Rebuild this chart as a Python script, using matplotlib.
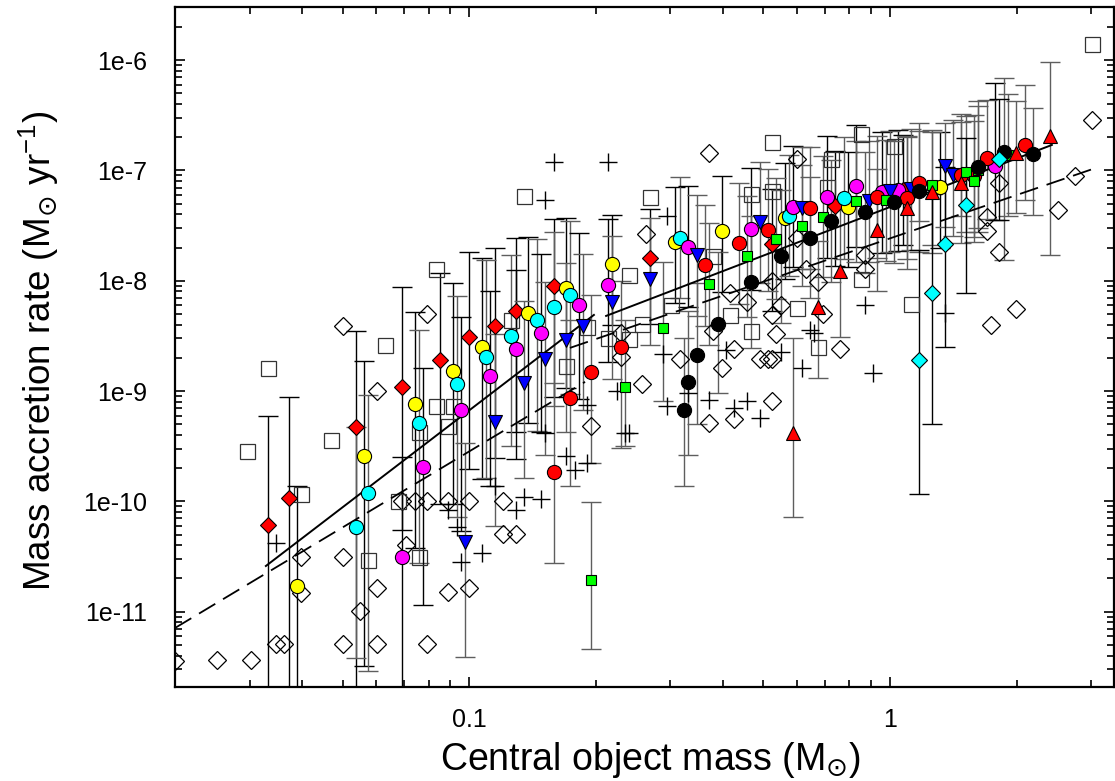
import numpy as np
import matplotlib
matplotlib.use("Agg")
import matplotlib.pyplot as plt
from matplotlib.ticker import FixedLocator, LogLocator, FuncFormatter, NullFormatter

plt.rcParams['font.family'] = ['Liberation Sans', 'DejaVu Sans']
plt.rcParams['mathtext.fontset'] = 'dejavusans'

# ---------------- data (log10 of mass [Msun], log10 of accretion rate [Msun/yr]) -------------
# filled red diamonds
rd_logm = [-1.48, -1.43, -1.27, -1.16, -1.07, -1.00, -0.94, -0.89, -0.80, -0.57, -0.28, -0.13, 0.03]
rd_logr = [-10.21, -9.97, -9.33, -8.96, -8.72, -8.51, -8.41, -8.27, -8.05, -7.79, -7.67, -7.32, -7.18]
rd_up = [0.98, 0.92, 0.87, 0.90, 0.79, 0.77, 0.71, 0.66, 0.61, 0.44, 0.50, 0.50, 0.50]
rd_dn = [2.0, 2.0, 2.5, 1.3, 1.3, 1.2, 1.2, 1.1, 1.0, 0.60, 0.60, 0.55, 0.50]

# yellow circles
ye_logm = [-1.41, -1.25, -1.13, -1.04, -0.97, -0.86, -0.77, -0.66, -0.51, -0.40, -0.25, -0.10, 0.12]
ye_logr = [-10.77, -9.59, -9.12, -8.82, -8.60, -8.29, -8.07, -7.85, -7.65, -7.55, -7.43, -7.33, -7.15]
ye_up = [0.91, 0.86, 0.84, 0.80, 0.81, 0.69, 0.64, 0.45, 0.50, 0.50, 0.50, 0.50, 0.50]
ye_dn = [1.5, 1.9, 1.3, 1.2, 1.2, 1.0, 0.9, 0.55, 0.55, 0.55, 0.55, 0.55, 0.55]

# cyan circles
cy_logm = [-1.27, -1.24, -1.12, -1.03, -0.96, -0.90, -0.84, -0.80, -0.76, -0.50, -0.24, -0.11]
cy_logr = [-10.23, -9.92, -9.29, -8.94, -8.69, -8.50, -8.36, -8.24, -8.13, -7.61, -7.41, -7.25]
cy_up = [0.90, 0.88, 0.84, 0.80, 0.88, 0.73, 0.74, 0.68, 0.67, 0.55, 0.55, 0.55]
cy_dn = [1.19, 1.62, 1.27, 1.2, 1.1, 1.0, 1.0, 0.9, 0.9, 0.55, 0.55, 0.55]

# magenta circles
mg_logm = [-1.16, -1.11, -1.02, -0.95, -0.89, -0.83, -0.74, -0.67, -0.48, -0.33, -0.23, -0.15,
           -0.08, -0.02, 0.02, 0.25]
mg_logr = [-10.50, -9.69, -9.17, -8.86, -8.62, -8.47, -8.22, -8.04, -7.69, -7.53, -7.33, -7.24,
           -7.14, -7.20, -7.18, -6.96]
mg_up = [0.90, 0.90, 0.84, 0.77, 0.72, 0.71, 0.65, 0.60, 0.55, 0.55, 0.55, 0.55, 0.55, 0.55, 0.55, 0.75]
mg_dn = [1.5, 1.25, 1.1, 1.0, 1.0, 0.9, 0.85, 0.7, 0.55, 0.55, 0.55, 0.55, 0.55, 0.55, 0.55, 0.49]

# blue down triangles
bl_logm = [-1.01, -0.94, -0.87, -0.82, -0.77, -0.73, -0.66, -0.57, -0.46, -0.31, -0.21, -0.05,
           0.00, 0.05, 0.13, 0.15]
bl_logr = [-10.37, -9.28, -8.93, -8.71, -8.54, -8.41, -8.19, -7.98, -7.77, -7.47, -7.34, -7.28,
           -7.19, -7.17, -6.96, -7.04]
bl_up = [0.9, 0.8, 0.75, 0.7, 0.7, 0.65, 0.6, 0.55, 0.55, 0.55, 0.55, 0.55, 0.55, 0.55, 0.39, 0.5]
bl_dn = [1.04, 0.94, 0.86, 0.87, 0.83, 0.76, 0.7, 0.6, 0.55, 0.55, 0.55, 0.55, 0.55, 0.55, 0.55, 0.55]

# red circles
rc_logm = [-0.80, -0.76, -0.71, -0.64, -0.44, -0.36, -0.29, -0.19, -0.03, 0.04, 0.07, 0.17, 0.20,
           0.23, 0.32]
rc_logr = [-9.73, -9.06, -8.83, -8.60, -7.86, -7.66, -7.54, -7.34, -7.24, -7.25, -7.11, -7.04,
           -7.05, -6.89, -6.77]
rc_up = [0.8, 0.7, 0.7, 0.6, 0.55, 0.55, 0.55, 0.55, 0.55, 0.55, 0.54, 0.55, 0.55, 0.53, 0.54]
rc_dn = [0.83, 0.80, 0.82, 0.92, 0.55, 0.55, 0.55, 0.55, 0.55, 0.55, 0.35, 0.37, 0.55, 0.55, 0.50]

# green squares
gr_logm = [-0.71, -0.63, -0.54, -0.43, -0.34, -0.27, -0.21, -0.16, -0.08, -0.01, 0.10, 0.18, 0.20,
           0.21, 0.28]
gr_logr = [-10.71, -8.96, -8.43, -8.03, -7.78, -7.62, -7.50, -7.42, -7.28, -7.27, -7.13, -7.01,
           -7.10, -7.00, -6.86]
gr_up = [0.70, 0.6, 0.6, 0.55, 0.55, 0.55, 0.55, 0.55, 0.55, 0.55, 0.5, 0.5, 0.55, 0.63, 0.55]
gr_dn = [0.63, 0.54, 0.66, 0.55, 0.55, 0.55, 0.55, 0.55, 0.55, 0.55, 0.55, 0.55, 0.55, 0.56, 0.55]

# black circles
bk_logm = [-0.49, -0.48, -0.46, -0.41, -0.33, -0.26, -0.19, -0.14, -0.06, 0.01, 0.07, 0.21, 0.27, 0.34]
bk_logr = [-9.17, -8.92, -8.67, -8.39, -8.01, -7.78, -7.61, -7.46, -7.38, -7.29, -7.19, -6.97,
           -6.83, -6.85]
bk_up = [0.65, 0.65, 0.65, 0.65, 0.6, 0.6, 0.55, 0.55, 0.55, 0.56, 0.55, 0.55, 0.67, 0.42]
bk_dn = [0.69, 0.66, 0.63, 0.63, 0.6, 0.6, 0.55, 0.55, 0.55, 0.55, 0.55, 0.55, 0.98, 0.55]

# red up triangles
rt_logm = [-0.23, -0.17, -0.12, -0.03, 0.04, 0.10, 0.17, 0.30, 0.38]
rt_logr = [-9.38, -8.24, -7.91, -7.54, -7.34, -7.20, -7.11, -6.84, -6.69]
rt_up = [0.86, 0.6, 0.55, 0.55, 0.65, 0.55, 0.55, 0.47, 0.67]
rt_dn = [0.76, 0.64, 0.6, 0.55, 0.55, 0.55, 0.55, 0.55, 1.08]

# cyan diamonds
cd_logm = [0.07, 0.10, 0.13, 0.18, 0.26]
cd_logr = [-8.72, -8.11, -7.67, -7.31, -6.90]
cd_up = [1.0, 0.9, 0.7, 0.6, 0.55]
cd_dn = [1.21, 1.19, 0.93, 0.8, 0.55]

# open diamonds
od_logm = [-1.70, -1.60, -1.52, -1.46, -1.44, -1.40, -1.40, -1.30, -1.30, -1.30, -1.26, -1.22,
           -1.22, -1.22, -1.16, -1.15, -1.13, -1.10, -1.10, -1.10, -1.05, -1.05, -1.00, -1.00,
           -0.92, -0.92, -0.89, -0.71, -0.64, -0.64, -0.59, -0.58, -0.50, -0.43, -0.43, -0.42,
           -0.40, -0.38, -0.37, -0.37, -0.34, -0.31, -0.29, -0.28, -0.28, -0.28, -0.27, -0.28,
           -0.26, -0.22, -0.22, -0.20, -0.17, -0.16, -0.12, -0.06, -0.06, 0.23, 0.23, 0.24,
           0.26, 0.26, 0.30, 0.40, 0.44, 0.48]
od_logr = [-11.45, -11.44, -11.44, -11.29, -11.29, -10.50, -10.83, -8.41, -10.50, -11.29, -10.99,
           -9.00, -10.79, -11.29, -10.00, -10.40, -10.00, -8.30, -10.00, -11.29, -10.00, -10.82,
           -10.00, -10.79, -10.00, -10.30, -10.30, -9.32, -8.69, -8.47, -8.94, -7.58, -8.71,
           -6.84, -9.29, -8.46, -8.79, -8.11, -8.62, -9.25, -8.19, -8.71, -8.71, -8.71, -9.09,
           -8.31, -8.48, -8.00, -8.22, -6.90, -7.61, -7.89, -8.01, -8.30, -8.62, -7.77, -7.89,
           -7.42, -7.55, -8.40, -7.11, -7.74, -8.26, -7.36, -7.05, -6.54]

# open squares
os_logm = [-1.53, -1.48, -1.40, -1.33, -1.20, -1.24, -1.17, -1.12, -1.12, -1.08, -1.08, -1.04,
           -1.05, -0.90, -0.87, -0.77, -0.72, -0.67, -0.62, -0.62, -0.59, -0.57, -0.52, -0.42,
           -0.38, -0.33, -0.33, -0.28, -0.28, -0.22, -0.17, -0.15, -0.14, -0.07, -0.07, 0.01,
           0.05, 0.48]
os_logr = [-9.54, -8.79, -9.93, -9.44, -8.58, -10.53, -10.00, -9.37, -10.50, -9.14, -7.89, -9.14,
           -9.32, -8.36, -7.23, -8.77, -8.42, -8.52, -8.53, -7.95, -8.39, -7.24, -8.22, -7.78,
           -8.31, -8.46, -7.21, -7.19, -6.74, -8.25, -8.60, -7.15, -6.90, -6.67, -7.98, -6.78,
           -8.21, -5.85]

# plus signs
pl_logm = [-1.46, -1.05, -1.03, -1.02, -0.97, -0.94, -0.89, -0.87, -0.83, -0.82, -0.82, -0.80,
           -0.77, -0.75, -0.72, -0.72, -0.67, -0.65, -0.63, -0.62, -0.54, -0.53, -0.53, -0.48,
           -0.43, -0.39, -0.37, -0.34, -0.31, -0.26, -0.21, -0.19, -0.18, -0.06, -0.04, 0.13]
pl_logr = [-10.38, -10.08, -10.23, -10.55, -10.47, -9.86, -10.08, -9.96, -9.98, -9.38, -7.27, -6.92,
           -9.59, -9.72, -9.13, -9.65, -6.92, -9.00, -9.38, -9.38, -8.66, -9.14, -7.41, -9.02,
           -9.08, -8.63, -9.15, -9.09, -9.24, -8.65, -8.79, -8.45, -8.47, -8.22, -8.84, -8.29]

# fitted relations (two broken power laws)
fit_solid_lo_logm = [-1.484, -0.704]
fit_solid_lo_logr = [-10.586, -8.310]
fit_solid_hi_logm = [-0.675, 0.385]
fit_solid_hi_logr = [-8.319, -6.769]
fit_dash_lo_logm = [-1.700, -0.725]
fit_dash_lo_logr = [-11.148, -8.917]
fit_dash_hi_logm = [-0.761, 0.483]
fit_dash_hi_logr = [-8.609, -6.986]

# ---------------- figure ----------------
W, H = 1115, 781
fig = plt.figure(figsize=(W / 100, H / 100), dpi=100)
ax = fig.add_axes([175 / W, 1 - 687 / H, (1113.5 - 175) / W, (687 - 7) / H])
ax.set_xscale('log')
ax.set_yscale('log')
ax.set_xlim(0.01995, 3.40)
ax.set_ylim(2.075e-12, 3.03e-6)


def p(a):
    return 10 ** np.asarray(a, dtype=float)


def errbars(lm, lr, up, dn, color):
    r = p(lr)
    hi = p(np.asarray(lr) + np.asarray(up)) - r
    lo = r - p(np.asarray(lr) - np.asarray(dn))
    ax.errorbar(p(lm), r, yerr=[lo, hi], fmt='none', ecolor=color, elinewidth=1.0,
                capsize=7.5, capthick=1.0, zorder=2)


gray = '#5e5e5e'
errbars(rd_logm, rd_logr, rd_up, rd_dn, 'black')
errbars(ye_logm, ye_logr, ye_up, ye_dn, 'black')
errbars(cy_logm, cy_logr, cy_up, cy_dn, gray)
errbars(mg_logm, mg_logr, mg_up, mg_dn, 'black')
errbars(bl_logm, bl_logr, bl_up, bl_dn, gray)
errbars(rc_logm, rc_logr, rc_up, rc_dn, gray)
errbars(gr_logm, gr_logr, gr_up, gr_dn, gray)
errbars(bk_logm, bk_logr, bk_up, bk_dn, gray)
errbars(rt_logm, rt_logr, rt_up, rt_dn, gray)
errbars(cd_logm, cd_logr, cd_up, cd_dn, 'black')

# open symbols
ax.plot(p(od_logm), p(od_logr), ls='none', marker='D', ms=9.4, mfc='none', mec='black',
        mew=0.9, zorder=3)
ax.plot(p(os_logm), p(os_logr), ls='none', marker='s', ms=10.8, mfc='none', mec='#333333',
        mew=0.9, zorder=3)
ax.plot(p(pl_logm), p(pl_logr), ls='none', marker='+', ms=13, mec='black', mew=1.0, zorder=3)

# fit lines
ax.plot(p(fit_solid_lo_logm), p(fit_solid_lo_logr), color='black', lw=1.4, zorder=4)
ax.plot(p(fit_solid_hi_logm), p(fit_solid_hi_logr), color='black', lw=1.4, zorder=4)
ax.plot(p(fit_dash_lo_logm), p(fit_dash_lo_logr), color='black', lw=1.3, dashes=(10.5, 5.0), zorder=4)
ax.plot(p(fit_dash_hi_logm), p(fit_dash_hi_logr), color='black', lw=1.3, dashes=(10.5, 5.0), zorder=4)

# filled symbols
kw = dict(ls='none', mec='black', mew=0.8, zorder=5)
ax.plot(p(rd_logm), p(rd_logr), marker='D', ms=7.8, mfc='#ff0000', **kw)
ax.plot(p(ye_logm), p(ye_logr), marker='o', ms=10.2, mfc='#ffff00', **kw)
ax.plot(p(cy_logm), p(cy_logr), marker='o', ms=10.2, mfc='#00ffff', **kw)
ax.plot(p(mg_logm), p(mg_logr), marker='o', ms=10.2, mfc='#ff00ff', **kw)
ax.plot(p(bl_logm), p(bl_logr), marker='v', ms=9.6, mfc='#0000ff', **kw)
ax.plot(p(rc_logm), p(rc_logr), marker='o', ms=10.2, mfc='#ff0000', **kw)
ax.plot(p(gr_logm), p(gr_logr), marker='s', ms=7.6, mfc='#00ff00', **kw)
ax.plot(p(bk_logm), p(bk_logr), marker='o', ms=10.2, mfc='black', **kw)
ax.plot(p(rt_logm), p(rt_logr), marker='^', ms=10.0, mfc='#ff0000', **kw)
ax.plot(p(cd_logm), p(cd_logr), marker='D', ms=8.4, mfc='#00ffff', **kw)

# ---------------- axes styling ----------------
for s in ax.spines.values():
    s.set_linewidth(1.6)

ax.xaxis.set_major_locator(FixedLocator([0.1, 1.0]))
ax.xaxis.set_major_formatter(FuncFormatter(lambda v, pos: '0.1' if v < 0.5 else '1'))
ax.xaxis.set_minor_locator(LogLocator(base=10, subs=np.arange(2, 10), numticks=20))
ax.xaxis.set_minor_formatter(NullFormatter())

ax.yaxis.set_major_locator(FixedLocator([1e-11, 1e-10, 1e-9, 1e-8, 1e-7, 1e-6]))
ax.yaxis.set_major_formatter(FuncFormatter(lambda v, pos: '1e%d' % int(round(np.log10(v)))))
ax.yaxis.set_minor_locator(LogLocator(base=10, subs=np.arange(2, 10), numticks=30))
ax.yaxis.set_minor_formatter(NullFormatter())

ax.tick_params(which='both', direction='in', top=True, right=True, width=1.2)
ax.tick_params(which='major', length=7.5)
ax.tick_params(which='minor', length=5)
ax.tick_params(axis='x', which='major', labelsize=18, pad=15)
ax.tick_params(axis='y', which='major', labelsize=18, pad=20)

ax.set_xlabel('Central object mass (M$_{\\odot}$)', fontsize=27)
ax.xaxis.set_label_coords(0.507, -0.078)
ax.set_ylabel('Mass accretion rate (M$_{\\odot}$ yr$^{\\mathregular{-1}}$)', fontsize=26.5)
ax.yaxis.set_label_coords(-0.121, 0.495)

fig.savefig('out.png', dpi=100)
